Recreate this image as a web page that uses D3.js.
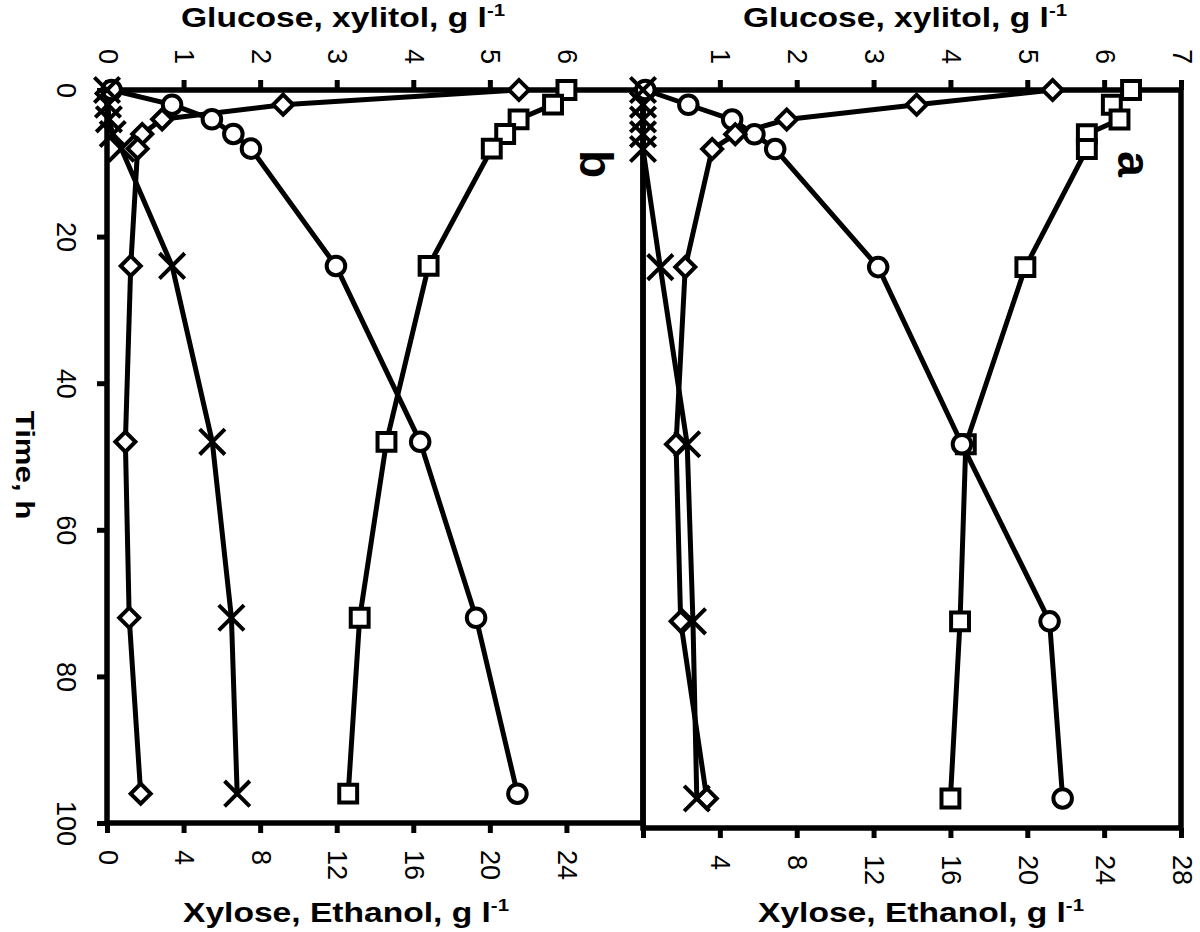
<!DOCTYPE html>
<html>
<head>
<meta charset="utf-8">
<script src="https://cdn.jsdelivr.net/npm/d3@7"></script>
<style>
body { margin: 0; background: #fff; }
svg text { font-family: "Liberation Sans", Arial, sans-serif; fill: #000; }
</style>
</head>
<body>
<svg id="chart" width="1200" height="932"></svg>
<script>
var hours = [0, 2, 4, 6, 8, 24, 48, 72, 96];

// panel a
var glucoseA = [5.33, 3.56, 1.87, 1.20, 0.90, 0.55, 0.43, 0.49, 0.83];
var xylitolA = [0.03, 0.59, 1.16, 1.45, 1.72, 3.06, 4.15, 5.29, 5.46];
var xyloseA  = [25.4, 24.4, 24.8, 23.1, 23.1, 19.9, 16.8, 16.5, 16.0];
var ethanolA = [0, 0, 0, 0, 0, 0.9, 2.3, 2.6, 2.8];

// panel b
var glucoseB = [5.38, 2.30, 0.72, 0.46, 0.40, 0.31, 0.24, 0.29, 0.44];
var xylitolB = [0.06, 0.85, 1.37, 1.65, 1.88, 2.99, 4.09, 4.82, 5.36];
var xyloseB  = [24.0, 23.3, 21.5, 20.8, 20.1, 16.8, 14.6, 13.2, 12.6];
var ethanolB = [0, 0.05, 0.1, 0.3, 0.75, 3.4, 5.5, 6.5, 6.8];

var timeTicks = [0, 20, 40, 60, 80, 100];
var glucoseTicks = [0, 1, 2, 3, 4, 5, 6, 7];
var xyloseTicks = [0, 4, 8, 12, 16, 20, 24, 28];

var svg = d3.select("#chart");

var panels = [
    {name: "b", left: 107, right: 643, top: 90, bottom: 823,
     glucose: glucoseB, xylitol: xylitolB, xylose: xyloseB, ethanol: ethanolB,
     hideTop: 7, hideBottom: 28, timeAxis: true, topTitle: 343, botTitle: 346},
    {name: "a", left: 643, right: 1181, top: 90, bottom: 828,
     glucose: glucoseA, xylitol: xylitolA, xylose: xyloseA, ethanol: ethanolA,
     hideTop: 0, hideBottom: 0, timeAxis: false, topTitle: 905, botTitle: 921}
];

function styleAxis(g){
    g.select(".domain").remove();
    g.selectAll(".tick line").attr("stroke", "#000").attr("stroke-width", 5);
    g.selectAll(".tick text").attr("font-size", 27).attr("fill", "#000");
}

function title(x, y, main){
    var t = svg.append("text")
        .attr("transform", "translate(" + x + "," + y + ") scale(1.2,1)")
        .attr("text-anchor", "middle").attr("font-size", 28).attr("font-weight", "bold");
    t.append("tspan").text(main);
    t.append("tspan").attr("dy", -11).attr("font-size", 17).text("-1");
}

panels.forEach(function(p){
    var y = d3.scaleLinear().domain([0, 100]).range([p.top, p.bottom]);
    var xTop = d3.scaleLinear().domain([0, 7]).range([p.left, p.right]);
    var xBot = d3.scaleLinear().domain([0, 28]).range([p.left, p.right]);

    var gTop = svg.append("g")
        .attr("transform", "translate(0," + p.top + ")")
        .call(d3.axisTop(xTop).tickValues(glucoseTicks).tickSize(10).tickSizeOuter(0)
            .tickFormat(function(d){ return d === p.hideTop ? "" : d; }))
        .call(styleAxis);
    gTop.selectAll(".tick text")
        .attr("y", null).attr("dy", null)
        .attr("text-anchor", "end")
        .attr("dominant-baseline", "central")
        .attr("transform", "translate(0,-26) rotate(90)");

    var gBot = svg.append("g")
        .attr("transform", "translate(0," + p.bottom + ")")
        .call(d3.axisBottom(xBot).tickValues(xyloseTicks).tickSize(10).tickSizeOuter(0)
            .tickFormat(function(d){ return d === p.hideBottom ? "" : d; }))
        .call(styleAxis);
    gBot.selectAll(".tick text")
        .attr("y", null).attr("dy", null)
        .attr("text-anchor", "start")
        .attr("dominant-baseline", "central")
        .attr("transform", "translate(0,27) rotate(90)");

    if (p.timeAxis) {
        var gLeft = svg.append("g")
            .attr("transform", "translate(" + p.left + ",0)")
            .call(d3.axisLeft(y).tickValues(timeTicks).tickSize(10).tickSizeOuter(0))
            .call(styleAxis);
        gLeft.selectAll(".tick text")
            .attr("x", null).attr("dy", null)
            .attr("text-anchor", "middle")
            .attr("dominant-baseline", "central")
            .attr("transform", "translate(-41,0) rotate(90)");
    }

    // frame
    svg.append("rect")
        .attr("x", p.left).attr("y", p.top)
        .attr("width", p.right - p.left).attr("height", p.bottom - p.top)
        .attr("fill", "none").attr("stroke", "#000").attr("stroke-width", 5.5);

    var series = [
        {vals: p.xylose, x: xBot, shape: d3.symbolSquare, size: 320, rot: 0},
        {vals: p.xylitol, x: xTop, shape: d3.symbolCircle, size: 270, rot: 0},
        {vals: p.glucose, x: xTop, shape: d3.symbolSquare, size: 200, rot: 45},
        {vals: p.ethanol, x: xBot, shape: d3.symbolX, size: 420, rot: 0}
    ];

    var line = d3.line();
    series.forEach(function(s){
        svg.append("path")
            .datum(hours.map(function(h, i){ return [s.x(s.vals[i]), y(h)]; }))
            .attr("d", line)
            .attr("fill", "none").attr("stroke", "#000")
            .attr("stroke-width", 5).attr("stroke-linejoin", "round");
    });
    series.forEach(function(s){
        svg.append("g").selectAll("path")
            .data(hours)
            .enter().append("path")
            .attr("d", d3.symbol().type(s.shape).size(s.size))
            .attr("transform", function(h, i){
                return "translate(" + s.x(s.vals[i]) + "," + y(h) + ") rotate(" + s.rot + ")";
            })
            .attr("fill", s.shape === d3.symbolX ? "none" : "#fff")
            .attr("stroke", "#000").attr("stroke-width", 4);
    });

    // panel letter
    svg.append("text")
        .attr("transform", "translate(" + (p.right - 47) + ",164) rotate(90)")
        .attr("text-anchor", "middle").attr("dominant-baseline", "central")
        .attr("font-size", 46).attr("font-weight", "bold")
        .text(p.name);

    title(p.topTitle, 27, "Glucose, xylitol, g l");
    title(p.botTitle, 922, "Xylose, Ethanol, g l");
});

svg.append("text")
    .attr("transform", "translate(25,465) rotate(90) scale(1.2,1)")
    .attr("text-anchor", "middle").attr("dominant-baseline", "central")
    .attr("font-size", 26).attr("font-weight", "bold")
    .text("Time, h");
</script>
</body>
</html>
